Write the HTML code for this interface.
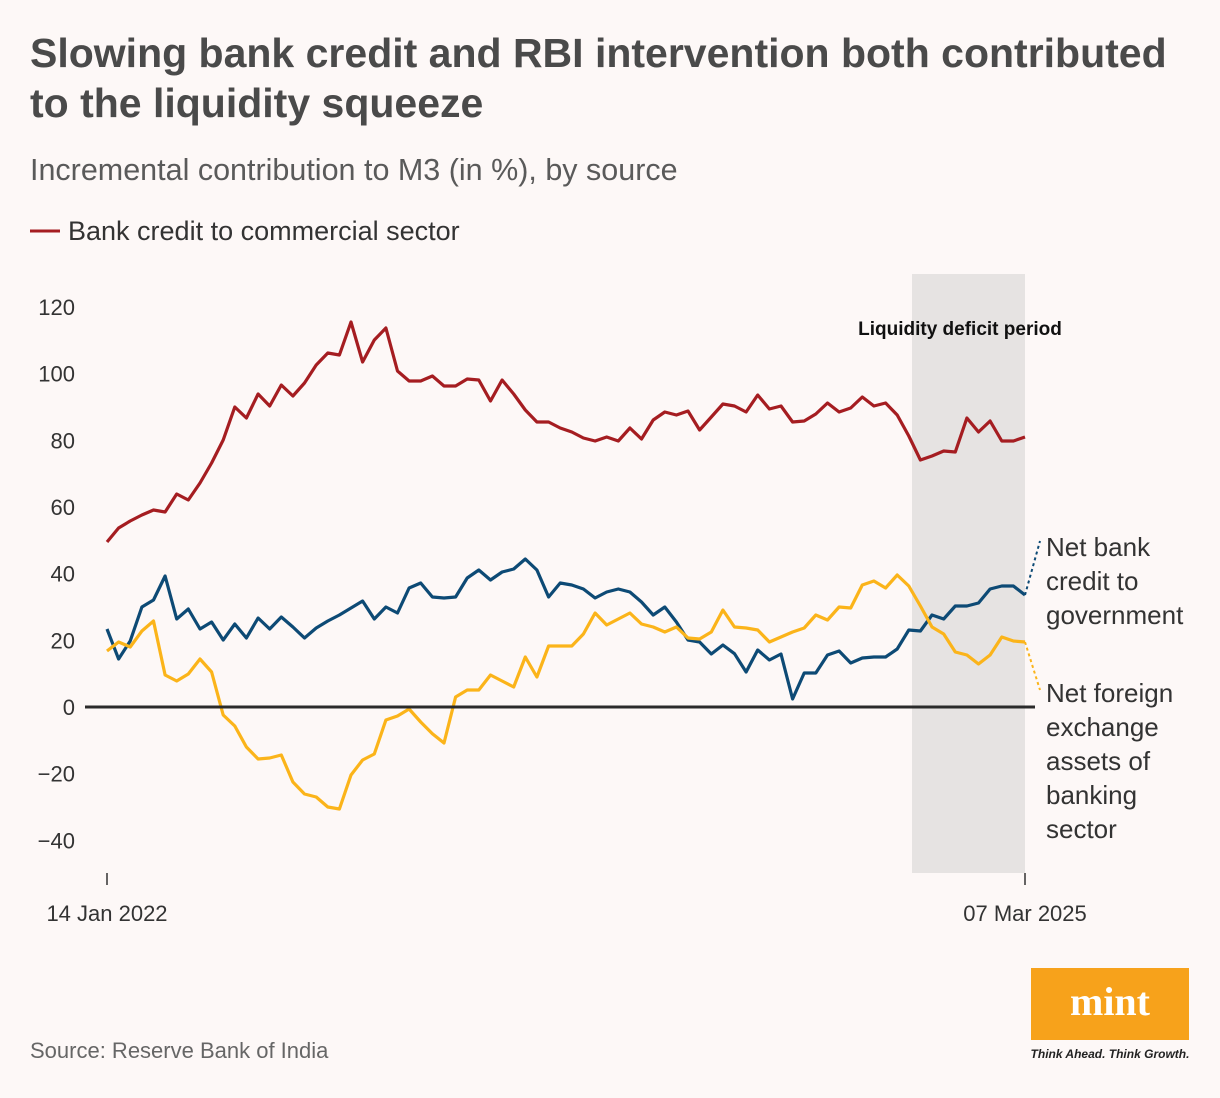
<!DOCTYPE html>
<html><head><meta charset="utf-8"><style>
body{margin:0;background:#fdf8f7;font-family:"Liberation Sans",sans-serif;}
#wrap{position:relative;width:1220px;height:1098px;overflow:hidden;background:#fdf8f7;}
</style></head><body>
<div id="wrap">
<svg id="chart" width="1220" height="1098" xmlns="http://www.w3.org/2000/svg">
<text x="30" y="67" font-size="41" font-weight="bold" fill="#4a4a4a">Slowing bank credit and RBI intervention both contributed</text>
<text x="30" y="117" font-size="41" font-weight="bold" fill="#4a4a4a">to the liquidity squeeze</text>
<text x="30" y="180" font-size="30.5" fill="#5a5a5a">Incremental contribution to M3 (in %), by source</text>
<line x1="30" y1="231" x2="60" y2="231" stroke="#a51d21" stroke-width="3"/>
<text x="68" y="240" font-size="27" fill="#333">Bank credit to commercial sector</text>
<rect x="912" y="274" width="113" height="599" fill="#e6e3e2"/>
<text x="960" y="335" font-size="19" font-weight="bold" fill="#111" text-anchor="middle">Liquidity deficit period</text>
<g id="yaxis"></g>
<g id="series"></g>
<line x1="107" y1="873" x2="107" y2="885" stroke="#333" stroke-width="1.5"/>
<line x1="1025" y1="873" x2="1025" y2="885" stroke="#333" stroke-width="1.5"/>
<text x="107" y="921" font-size="22" fill="#333" text-anchor="middle">14 Jan 2022</text>
<text x="1025" y="921" font-size="22" fill="#333" text-anchor="middle">07 Mar 2025</text>
<g font-size="26" fill="#333">
<text x="1046" y="556">Net bank</text><text x="1046" y="590">credit to</text><text x="1046" y="624">government</text></g>
<g font-size="26" fill="#333">
<text x="1046" y="702">Net foreign</text><text x="1046" y="736">exchange</text><text x="1046" y="770">assets of</text><text x="1046" y="804">banking</text><text x="1046" y="838">sector</text></g>
<text x="30" y="1058" font-size="22" fill="#666">Source: Reserve Bank of India</text>
<rect x="1031" y="968" width="158" height="72" fill="#f7a21b"/>
<text x="1110" y="1015" font-size="40" font-weight="bold" fill="#fff" text-anchor="middle" font-family="Liberation Serif,serif">mint</text>
<text x="1110" y="1058" font-size="12" font-style="italic" font-weight="bold" fill="#222" text-anchor="middle">Think Ahead. Think Growth.</text>
</svg>
</div>
<script>
const yTicks=[120,100,80,60,40,20,0,-20,-40];
const yTickLabels=["120","100","80","60","40","20","0","\u221220","\u221240"];
const bankCredit=[49.5,53.7,55.8,57.6,59.1,58.5,63.9,62.1,67.2,73.2,80.1,90,86.7,93.9,90.3,96.6,93.3,97.2,102.6,106.2,105.6,115.5,103.5,110.1,113.7,100.8,97.8,97.8,99.3,96.3,96.3,98.4,98.1,91.8,98.1,93.9,89.1,85.5,85.5,83.7,82.5,80.7,79.8,81,79.8,83.7,80.4,86.1,88.5,87.6,88.8,83.1,87,90.9,90.3,88.5,93.6,89.4,90.3,85.5,85.8,87.9,91.2,88.5,89.7,93,90.3,91.2,87.6,81.3,74.1,75.3,76.8,76.5,86.7,82.5,85.8,79.8,79.8,81];
const govtCredit=[23.4,14.4,19.8,30,32.1,39.3,26.4,29.4,23.4,25.5,20.1,24.9,20.7,26.7,23.4,27,24,20.7,23.7,25.8,27.6,29.7,31.8,26.4,30,28.2,35.7,37.2,33,32.7,33,38.7,41.1,38.1,40.5,41.4,44.4,41.1,33,37.2,36.6,35.4,32.7,34.5,35.4,34.5,31.5,27.6,30,25.5,20.1,19.5,15.9,18.6,16,10.5,17.1,14.1,15.9,2.4,10.2,10.2,15.6,16.8,13.2,14.7,15,15,17.4,23.1,22.8,27.6,26.4,30.3,30.3,31.2,35.4,36.3,36.3,33.6];
const forexAssets=[16.8,19.5,18,22.8,25.8,9.6,7.8,9.9,14.4,10.5,-2.4,-5.7,-12,-15.6,-15.3,-14.4,-22.5,-26.1,-27,-30,-30.6,-20.4,-15.9,-14.1,-3.9,-2.7,-0.6,-4.5,-8,-10.8,3,5.1,5.1,9.6,7.8,6,15,9,18.3,18.3,18.3,21.9,28.2,24.6,26.4,28.2,24.9,24,22.5,24,20.7,20.4,22.5,29.1,24,23.7,23.1,19.5,21,22.5,23.7,27.6,26.1,30,29.7,36.6,37.8,35.7,39.6,36.3,30.3,24,21.9,16.5,15.6,12.9,15.6,21,19.8,19.5];
const NS="http://www.w3.org/2000/svg";
const X0=107,X1=1025;
function yScale(v){return 707-v*3.333;}
function xScale(i,n){return X0+(X1-X0)*i/(n-1);}
const yg=document.getElementById('yaxis');
yTicks.forEach((t,k)=>{
 const tx=document.createElementNS(NS,'text');
 tx.setAttribute('x',75);tx.setAttribute('y',yScale(t)+8);
 tx.setAttribute('font-size','22');tx.setAttribute('fill','#333');tx.setAttribute('text-anchor','end');
 tx.textContent=yTickLabels[k];
 
 
 yg.appendChild(tx);
});
const sg=document.getElementById('series');
function drawLine(arr,color,name){
 const n=arr.length;
 const pts=arr.map((v,i)=>xScale(i,n).toFixed(1)+','+yScale(v).toFixed(1)).join(' ');
 const p=document.createElementNS(NS,'polyline');
 p.setAttribute('points',pts);p.setAttribute('fill','none');p.setAttribute('stroke',color);
 p.setAttribute('stroke-width','3.2');p.setAttribute('stroke-linejoin','round');
 
 
 sg.appendChild(p);
 return [xScale(n-1,n),yScale(arr[n-1])];
}
const g=drawLine(govtCredit,'#0d4a75','line-net-bank-credit-govt');
const f=drawLine(forexAssets,'#fbb41a','line-net-forex-assets');
drawLine(bankCredit,'#a51d21','line-bank-credit-commercial');
const zl=document.createElementNS(NS,'line');
zl.setAttribute('x1',85);zl.setAttribute('x2',1035);zl.setAttribute('y1',yScale(0));zl.setAttribute('y2',yScale(0));
zl.setAttribute('stroke','#2b2b2b');zl.setAttribute('stroke-width','3');


sg.appendChild(zl);
function leader(p,x2,y2,color,name){
 const l=document.createElementNS(NS,'line');
 l.setAttribute('x1',p[0]);l.setAttribute('y1',p[1]);l.setAttribute('x2',x2);l.setAttribute('y2',y2);
 l.setAttribute('stroke',color);l.setAttribute('stroke-width','2');l.setAttribute('stroke-dasharray','3,3');
 
 
 sg.appendChild(l);
}
leader(g,1040,541,'#0d4a75','leader-govt');
leader(f,1040,690,'#fbb41a','leader-forex');
</script>
</body></html>
